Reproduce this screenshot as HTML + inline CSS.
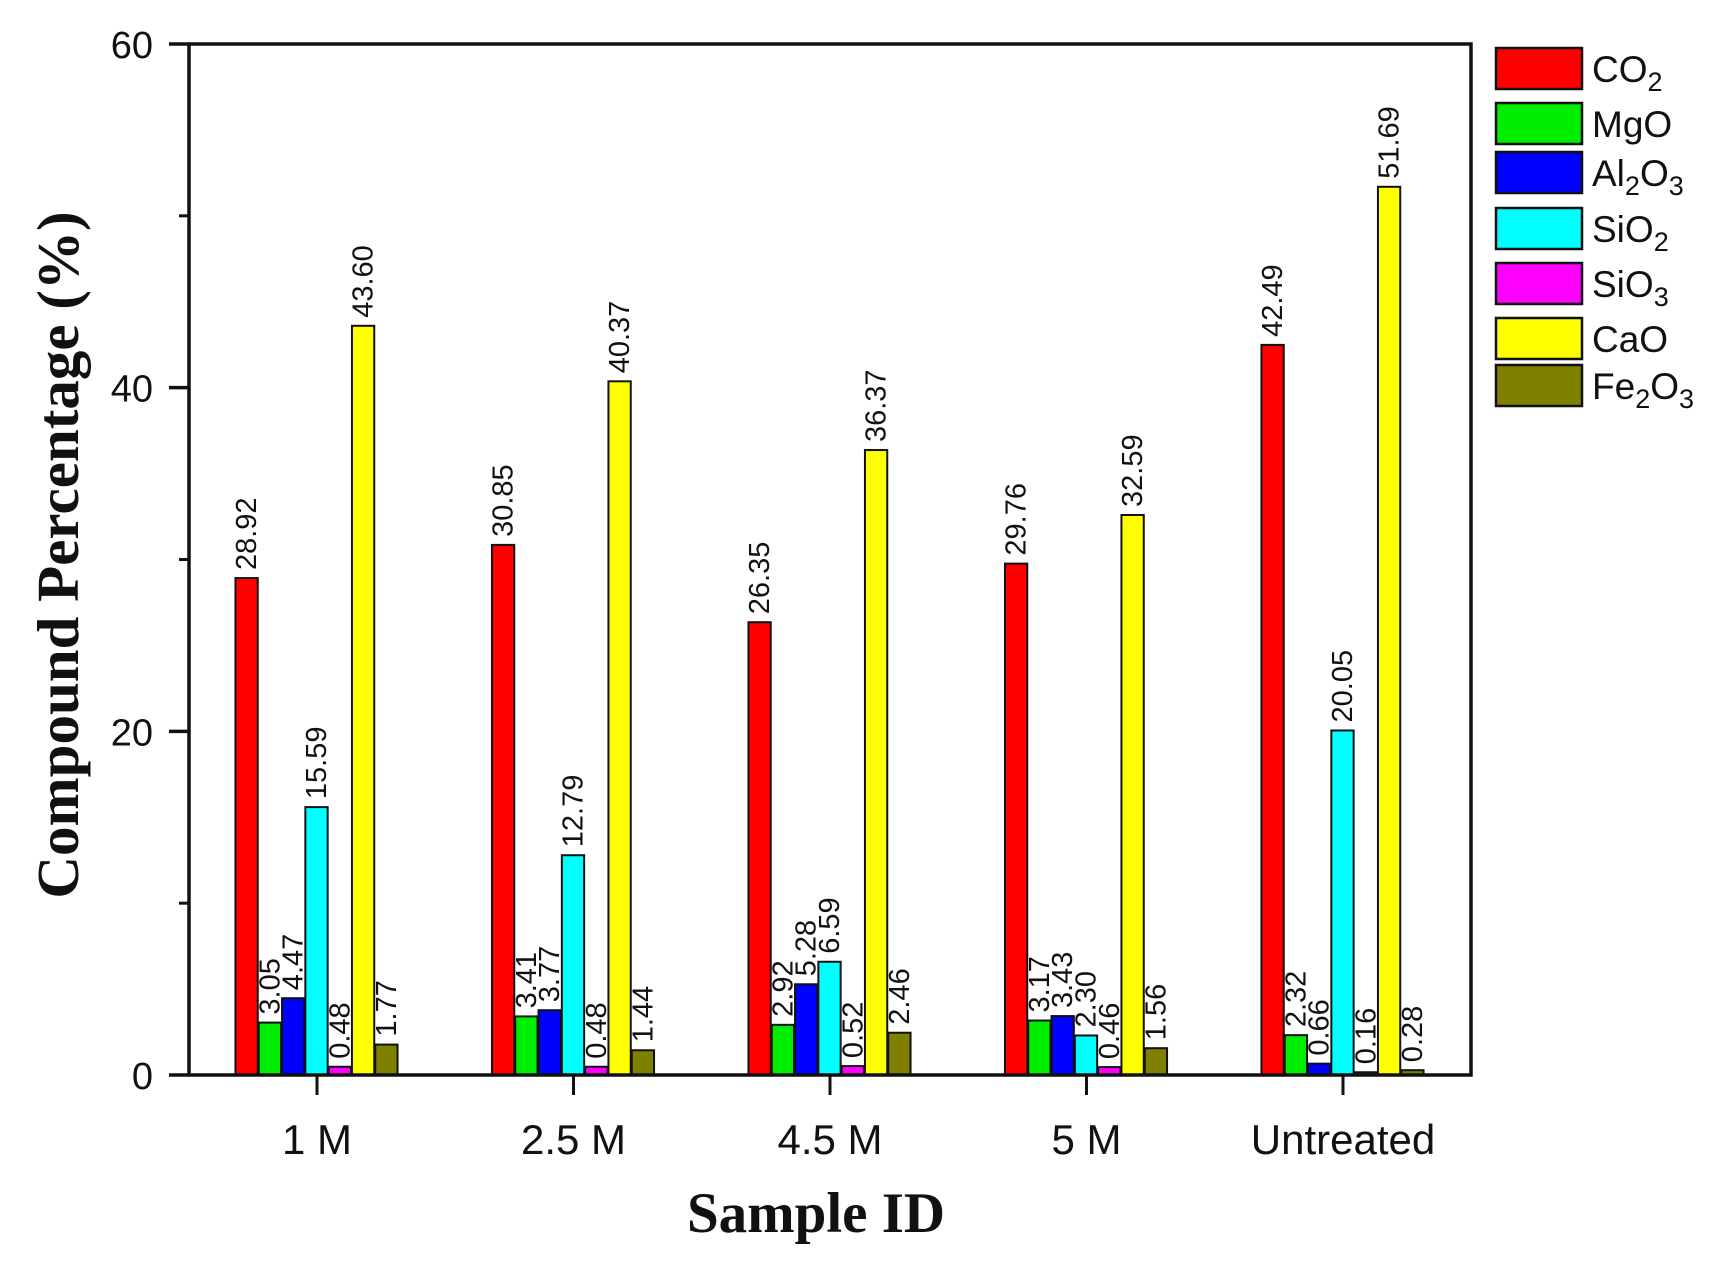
<!DOCTYPE html>
<html><head><meta charset="utf-8"><style>
html,body{margin:0;padding:0;background:#fff;}
svg{display:block;}
text{font-family:"Liberation Sans",Arial,sans-serif;fill:#111;}
.serif{font-family:"Liberation Serif","Times New Roman",serif;font-weight:bold;}
</style></head><body>
<svg id="chart" width="1718" height="1268" viewBox="0 0 1718 1268" xmlns="http://www.w3.org/2000/svg">
<g id="bars"></g>
<g id="labels"></g>
<g id="axes"></g>
<g id="legend"></g>
<text class="serif" x="816" y="1232" font-size="57" text-anchor="middle">Sample ID</text>
<text class="serif" x="0" y="0" font-size="59" text-anchor="middle" transform="translate(78,555) rotate(-90)">Compound Percentage (%)</text>
</svg>
<script>
const categories = ["1 M","2.5 M","4.5 M","5 M","Untreated"];
const seriesNames = ["CO2","MgO","Al2O3","SiO2","SiO3","CaO","Fe2O3"];
const co2 = [28.92,30.85,26.35,29.76,42.49];
const mgo = [3.05,3.41,2.92,3.17,2.32];
const al2o3 = [4.47,3.77,5.28,3.43,0.66];
const sio2 = [15.59,12.79,6.59,2.30,20.05];
const sio3 = [0.48,0.48,0.52,0.46,0.16];
const cao = [43.60,40.37,36.37,32.59,51.69];
const fe2o3 = [1.77,1.44,2.46,1.56,0.28];
const yTicks = [0,20,40,60];
const yMinorTicks = [10,30,50];

const series = [co2,mgo,al2o3,sio2,sio3,cao,fe2o3];
const colors = ["#ff0000","#00ee00","#0000ff","#00ffff","#ff00ff","#ffff00","#808000"];
const legendLabels = [["CO","2",""],["MgO","",""],["Al","2","O","3"],["SiO","2",""],["SiO","3",""],["CaO","",""],["Fe","2","O","3"]];
const NS="http://www.w3.org/2000/svg";
const X0=189,X1=1471,Y0=1075,Y1=44,YMAX=60;
const y = v => Y0 - v/YMAX*(Y0-Y1);
const groupCenter = i => 317 + i*256.5;
const BW = 23.3;
const barX = (i,s) => groupCenter(i) - BW*3.5 + s*BW;
function el(tag,attrs,parent){const e=document.createElementNS(NS,tag);for(const k in attrs)e.setAttribute(k,attrs[k]);parent.appendChild(e);return e;}
const gb=document.getElementById('bars'),gl=document.getElementById('labels'),ga=document.getElementById('axes'),gL=document.getElementById('legend');
series.forEach((vals,s)=>{
  vals.forEach((v,i)=>{
    const r=el('rect',{x:barX(i,s),y:y(v),width:BW-1,height:Y0-y(v),fill:colors[s],stroke:'#111','stroke-width':2},gb);
    
    
    const cx=barX(i,s)+BW/2, ty=y(v)-8;
    const t=el('text',{x:0,y:0,'font-size':29,'dominant-baseline':'central',transform:`translate(${cx},${ty}) rotate(-90)`},gl);
    t.textContent=v.toFixed(2);
    
    
  });
});
const f=el('rect',{x:X0,y:Y1,width:X1-X0,height:Y0-Y1,fill:'none',stroke:'#111','stroke-width':3.5},ga);


yTicks.forEach(v=>{
  el('line',{x1:X0-20,x2:X0,y1:y(v),y2:y(v),stroke:'#111','stroke-width':3.5},ga);
  const t=el('text',{x:153,y:y(v)+14,'font-size':38,'text-anchor':'end'},ga);
  t.textContent=v;
  
  
});
yMinorTicks.forEach(v=>{el('line',{x1:X0-10,x2:X0,y1:y(v),y2:y(v),stroke:'#111','stroke-width':3},ga);});
categories.forEach((c,i)=>{
  el('line',{x1:groupCenter(i),x2:groupCenter(i),y1:Y0,y2:Y0+20,stroke:'#111','stroke-width':3},ga);
  const t=el('text',{x:groupCenter(i),y:1154,'font-size':42,'text-anchor':'middle'},ga);
  t.textContent=c;
  
  
});
const legTops=[48,103,152,208,263,318,365];
legendLabels.forEach((lab,s)=>{
  const top=legTops[s];
  const r=el('rect',{x:1496,y:top,width:86,height:41,fill:colors[s],stroke:'#111','stroke-width':2.5},gL);
  
  
  const t=el('text',{x:1592,y:top+34,'font-size':37},gL);
  
  
  lab.forEach((part,k)=>{
    if(!part)return;
    const sp=el('tspan',{},t);
    if(k%2===1){sp.setAttribute('font-size','27');sp.setAttribute('dy','9');}
    else if(k>0){sp.setAttribute('dy','-9');}
    sp.textContent=part;
  });
});
</script>
</body></html>
